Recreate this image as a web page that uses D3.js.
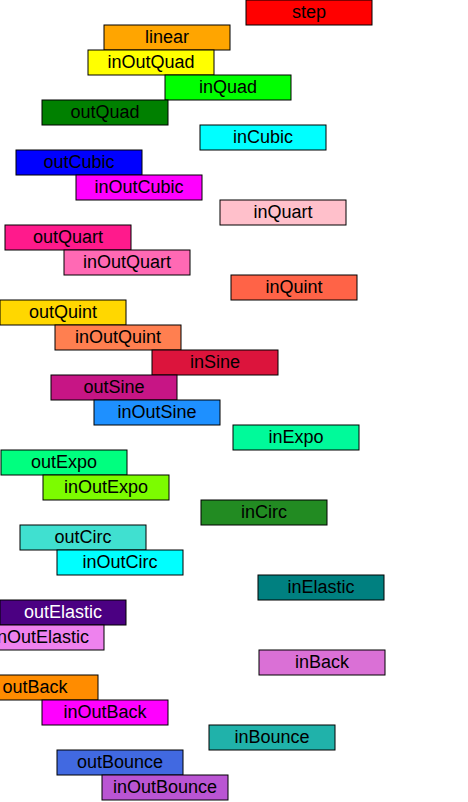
<!DOCTYPE html>
<html><head><meta charset="utf-8">
<script src="https://cdn.jsdelivr.net/npm/d3@7"></script>
<style>body{margin:0;background:#fff}</style>
</head><body>
<svg id="chart" width="468" height="802"></svg>
<script>
const names = ["step","linear","inOutQuad","inQuad","outQuad","inCubic","outCubic","inOutCubic","inQuart","outQuart","inOutQuart","inQuint","outQuint","inOutQuint","inSine","outSine","inOutSine","inExpo","outExpo","inOutExpo","inCirc","outCirc","inOutCirc","inElastic","outElastic","inOutElastic","inBack","outBack","inOutBack","inBounce","outBounce","inOutBounce"];
const offsets = [246,104,88,165,42,200,16,76,220,5,64,231,0,55,152,51,94,233,1,43,201,20,57,258,0,-22,259,-28,42,209,57,102];
const colors = ["red","orange","yellow","lime","green","cyan","blue","magenta","pink","#ff1a8c","hotpink","tomato","gold","coral","crimson","mediumvioletred","dodgerblue","mediumspringgreen","springgreen","lawngreen","forestgreen","turquoise","aqua","teal","indigo","violet","orchid","darkorange","fuchsia","lightseagreen","royalblue","mediumorchid"];
const textColors = names.map(n => n === "outElastic" ? "white" : "black");

const svg = d3.select("#chart");
const x = d3.scaleLinear().domain([0, 468]).range([0, 468]);
const y = d3.scaleBand().domain(names).range([0, 800]);
const w = 126;

const g = svg.selectAll("g").data(names).join("g")
  .attr("transform", (d, i) => `translate(${x(offsets[i])},${y(d)})`);
g.append("rect").attr("width", w).attr("height", y.bandwidth())
  .attr("fill", (d, i) => colors[i]).attr("stroke", "black").attr("stroke-width", 1);
g.append("text").attr("x", w / 2).attr("y", y.bandwidth() / 2 + 5)
  .attr("text-anchor", "middle").attr("font-family", "Liberation Sans, Arial, sans-serif")
  .attr("font-size", 18).attr("fill", (d, i) => textColors[i]).text(d => d);
</script>
</body></html>
